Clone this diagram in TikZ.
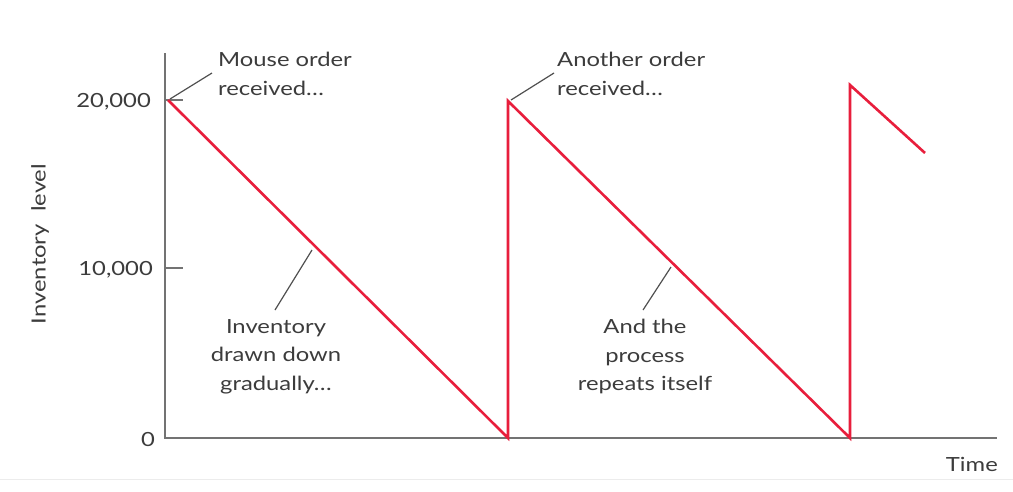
\documentclass[tikz,border=0pt]{standalone}
\usepackage{fontspec}
\setmainfont{Lato}[FakeStretch=1.22]
\definecolor{txt}{RGB}{60,60,60}
\definecolor{axisgray}{RGB}{115,115,115}
\definecolor{sawred}{RGB}{232,30,60}
\begin{document}
\begin{tikzpicture}[x=1pt,y=-1pt,
  lbl/.style={text=txt,font=\fontsize{19.5}{28.7}\selectfont,inner sep=0pt},
  axisline/.style={draw=axisgray,line width=2.4pt},
  leader/.style={draw=txt!90,line width=1.2pt},
  saw/.style={draw=sawred,line width=2.6pt,line join=miter}]
\useasboundingbox (0,0) rectangle (1013,491);
\fill[white] (0,0) rectangle (1013,491);
% axes
\coordinate (ytop) at (165,53);
\coordinate (orig) at (165,438);
\coordinate (xend) at (997,438);
\draw[axisline] (ytop) -- (orig) -- (xend);
\draw[gray!15,line width=1pt] (0,479) -- (1013,479);
% ticks
\coordinate (t20a) at (165,100); \coordinate (t20b) at (183,100);
\coordinate (t10a) at (165,268); \coordinate (t10b) at (183,268);
\draw[axisline,line width=1.6pt] (t20a) -- (t20b);
\draw[axisline,line width=1.6pt] (t10a) -- (t10b);
\node[lbl,anchor=east] (l20) at (151,102) {20,000};
\node[lbl,anchor=east] (l10) at (153,270) {10,000};
\node[lbl,anchor=east] (l0) at (155,440) {0};
\node[lbl,rotate=90] (ylab) at (40,244) {Inventory\ \ level};
\node[lbl,anchor=east] (time) at (998,464) {Time};
% sawtooth
\coordinate (p0) at (168,100);
\coordinate (p1) at (508,438);
\coordinate (p2) at (508,101);
\coordinate (p3) at (850,438);
\coordinate (p4) at (850,85);
\coordinate (p5) at (925,153);
\draw[saw] (p0) -- (p1) -- (p2) -- (p3) -- (p4) -- (p5);
% annotations
\node[lbl,align=left,anchor=north west] (mouse) at (218,52) {Mouse order\\received\ldots};
\node[lbl,align=left,anchor=north west] (another) at (557,52) {Another order\\received\ldots};
\node[lbl,align=center,anchor=north] (drawn) at (276,319) {Inventory\\drawn down\\gradually\ldots};
\node[lbl,align=center,anchor=north] (repeat) at (645,319) {And the\\process\\repeats itself};
\coordinate (m1) at (212,73); \coordinate (m2) at (170,99);
\coordinate (a1) at (554,73); \coordinate (a2) at (511,100);
\coordinate (d1) at (275,310); \coordinate (d2) at (312,250);
\coordinate (r1) at (643,310); \coordinate (r2) at (671,267);
\draw[leader] (m1) -- (m2);
\draw[leader] (a1) -- (a2);
\draw[leader] (d1) -- (d2);
\draw[leader] (r1) -- (r2);
\end{tikzpicture}
\end{document}
